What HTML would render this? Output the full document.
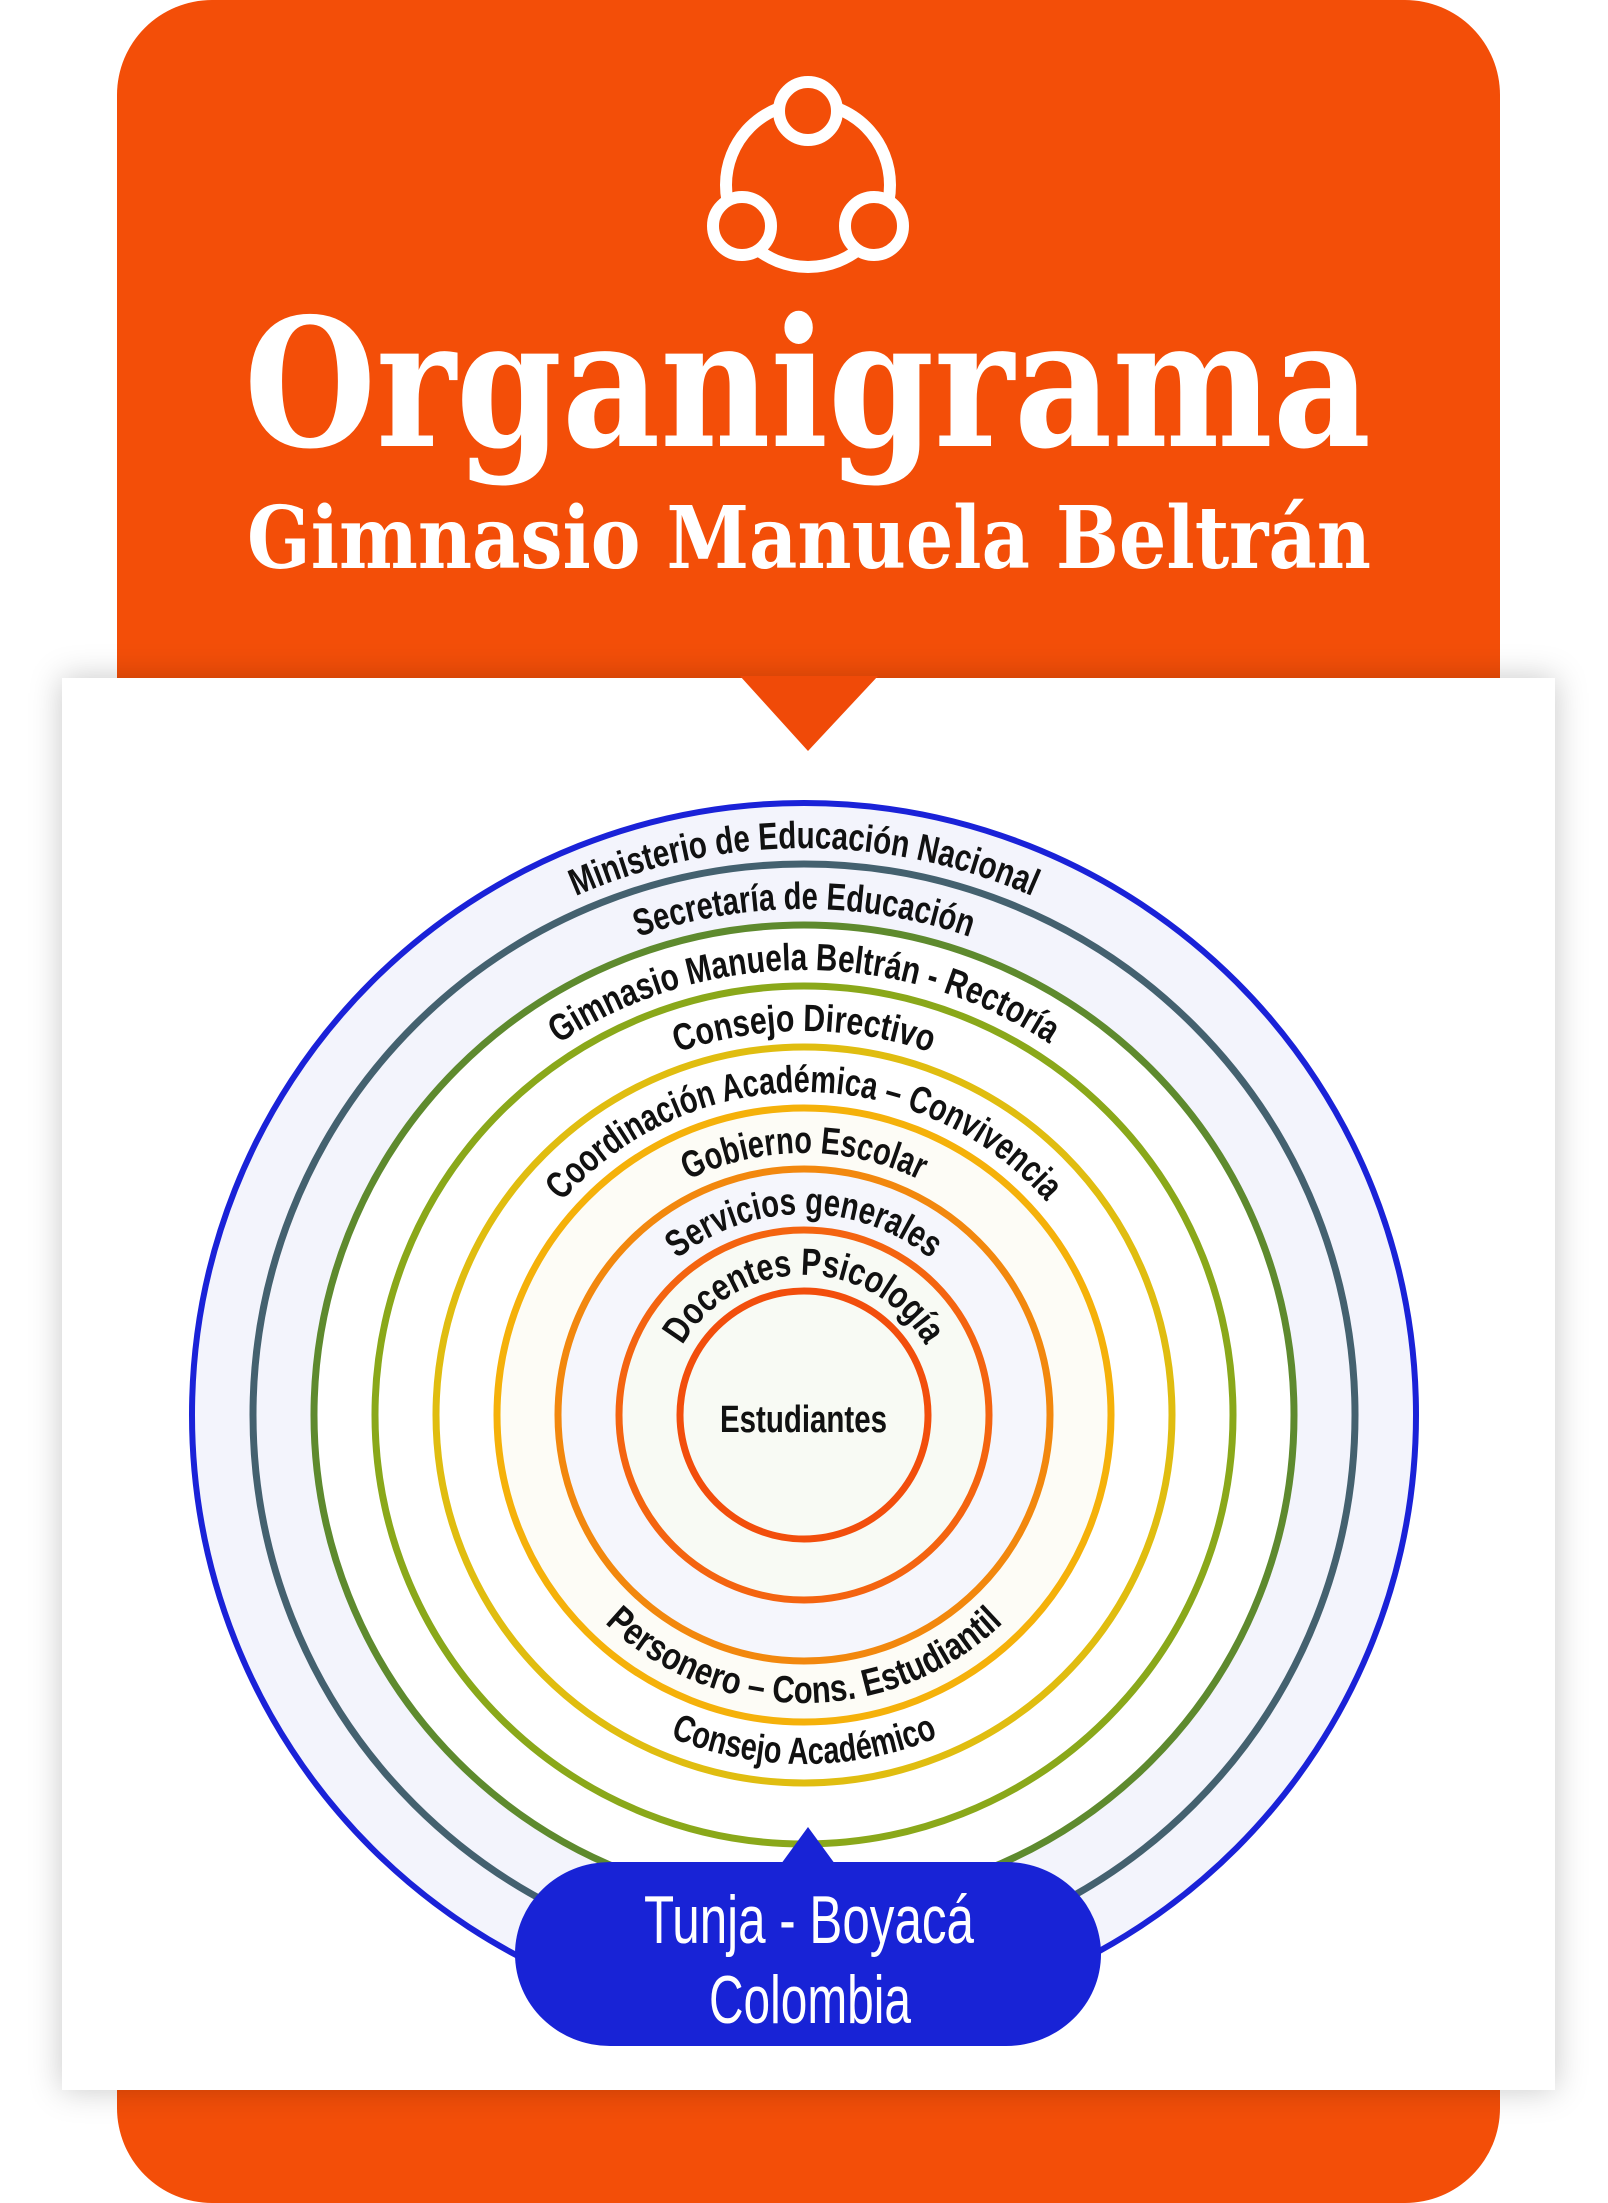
<!DOCTYPE html>
<html><head><meta charset="utf-8">
<style>
html,body{margin:0;padding:0;background:#fff;}
svg{display:block;}
.lbl{font-family:"Liberation Sans Narrow","Liberation Sans",sans-serif;font-weight:bold;font-size:38px;fill:#111;}
</style></head>
<body>
<svg width="1608" height="2203" viewBox="0 0 1608 2203" xmlns="http://www.w3.org/2000/svg">
<defs>
<filter id="sh" x="-10%" y="-10%" width="120%" height="120%">
<feDropShadow dx="0" dy="0" stdDeviation="16" flood-color="#000" flood-opacity="0.22"/>
</filter>
<path id="t1" d="M 237 1415 A 567 567 0 0 1 1371 1415"/>
<path id="t2" d="M 298 1415 A 506 506 0 0 1 1310 1415"/>
<path id="t3" d="M 359 1415 A 445 445 0 0 1 1249 1415"/>
<path id="t4" d="M 420 1415 A 384 384 0 0 1 1188 1415"/>
<path id="t5" d="M 481 1415 A 323 323 0 0 1 1127 1415"/>
<path id="t6" d="M 542 1415 A 262 262 0 0 1 1066 1415"/>
<path id="t7" d="M 603 1415 A 201 201 0 0 1 1005 1415"/>
<path id="t8" d="M 664 1415 A 140 140 0 0 1 944 1415"/>
<path id="b1" d="M 516 1415 A 288 288 0 0 0 1092 1415"/>
<path id="b2" d="M 455 1415 A 349 349 0 0 0 1153 1415"/>
</defs>
<!-- orange card -->
<rect x="117" y="0" width="1383" height="2203" rx="95" ry="95" fill="#f34e08"/>
<!-- icon -->
<g fill="none" stroke="#fff" stroke-width="12">
<circle cx="808" cy="185" r="82"/>
</g>
<g fill="#f34e08" stroke="#fff" stroke-width="12">
<circle cx="808" cy="111" r="29"/>
<circle cx="742" cy="226" r="29"/>
<circle cx="874" cy="226" r="29"/>
</g>
<text x="244" y="446" textLength="1127" lengthAdjust="spacingAndGlyphs" font-family="'DejaVu Serif','Liberation Serif',serif" font-weight="bold" font-size="178" fill="#fff">Organigrama</text>
<text x="247" y="568" textLength="1124" lengthAdjust="spacingAndGlyphs" font-family="'DejaVu Serif','Liberation Serif',serif" font-weight="bold" font-size="86" fill="#fff">Gimnasio Manuela Beltrán</text>
<!-- panel -->
<rect x="62" y="678" width="1493" height="1412" fill="#fff" filter="url(#sh)"/>
<polygon points="740,676 878,676 808,751" fill="#f04a08"/>
<!-- circles -->
<circle cx="804" cy="1415" r="612" fill="#f3f4fc"/>
<circle cx="804" cy="1415" r="490" fill="#fff"/>
<circle cx="804" cy="1415" r="307" fill="#fdfcf6"/>
<circle cx="804" cy="1415" r="246" fill="#f5f6fc"/>
<circle cx="804" cy="1415" r="185" fill="#f8faf4"/>
<g fill="none" stroke-width="7">
<circle cx="804" cy="1415" r="612" stroke="#1a22d8" stroke-width="6"/>
<circle cx="804" cy="1415" r="551" stroke="#44616f"/>
<circle cx="804" cy="1415" r="490" stroke="#5e8a2e"/>
<circle cx="804" cy="1415" r="429" stroke="#8aa81a"/>
<circle cx="804" cy="1415" r="368" stroke="#e0bd10"/>
<circle cx="804" cy="1415" r="307" stroke="#f5b10a"/>
<circle cx="804" cy="1415" r="246" stroke="#f2880e"/>
<circle cx="804" cy="1415" r="185" stroke="#f46410"/>
<circle cx="804" cy="1415" r="124" stroke="#f24e0c"/>
</g>
<!-- labels -->
<text class="lbl" textLength="470" lengthAdjust="spacingAndGlyphs"><textPath href="#t1" startOffset="50%" text-anchor="middle">Ministerio de Educación Nacional</textPath></text>
<text class="lbl" textLength="338" lengthAdjust="spacingAndGlyphs"><textPath href="#t2" startOffset="50%" text-anchor="middle">Secretaría de Educación</textPath></text>
<text class="lbl" textLength="520" lengthAdjust="spacingAndGlyphs"><textPath href="#t3" startOffset="50%" text-anchor="middle">Gimnasio Manuela Beltrán - Rectoría</textPath></text>
<text class="lbl" textLength="258" lengthAdjust="spacingAndGlyphs"><textPath href="#t4" startOffset="50%" text-anchor="middle">Consejo Directivo</textPath></text>
<text class="lbl" textLength="548" lengthAdjust="spacingAndGlyphs"><textPath href="#t5" startOffset="50%" text-anchor="middle">Coordinación Académica – Convivencia</textPath></text>
<text class="lbl" textLength="240" lengthAdjust="spacingAndGlyphs"><textPath href="#t6" startOffset="50%" text-anchor="middle">Gobierno Escolar</textPath></text>
<text class="lbl" textLength="274" lengthAdjust="spacingAndGlyphs"><textPath href="#t7" startOffset="50%" text-anchor="middle">Servicios generales</textPath></text>
<text class="lbl" textLength="294" lengthAdjust="spacingAndGlyphs"><textPath href="#t8" startOffset="50%" text-anchor="middle">Docentes Psicología</textPath></text>
<text class="lbl" textLength="440" lengthAdjust="spacingAndGlyphs"><textPath href="#b1" startOffset="50%" text-anchor="middle">Personero – Cons. Estudiantil</textPath></text>
<text class="lbl" textLength="275" lengthAdjust="spacingAndGlyphs"><textPath href="#b2" startOffset="50%" text-anchor="middle">Consejo Académico</textPath></text>
<text x="720" y="1432" textLength="167" lengthAdjust="spacingAndGlyphs" class="lbl" font-size="39">Estudiantes</text>
<!-- pill -->
<polygon points="781,1864 835,1864 808,1827" fill="#1823d6"/>
<rect x="515" y="1862" width="586" height="184" rx="95" ry="92" fill="#1823d6"/>
<text x="644" y="1943" textLength="330" lengthAdjust="spacingAndGlyphs" font-family="'Liberation Sans Narrow','Liberation Sans',sans-serif" font-size="68" fill="#fff">Tunja - Boyacá</text>
<text x="709" y="2023" textLength="202" lengthAdjust="spacingAndGlyphs" font-family="'Liberation Sans Narrow','Liberation Sans',sans-serif" font-size="68" fill="#fff">Colombia</text>
</svg>
</body></html>
